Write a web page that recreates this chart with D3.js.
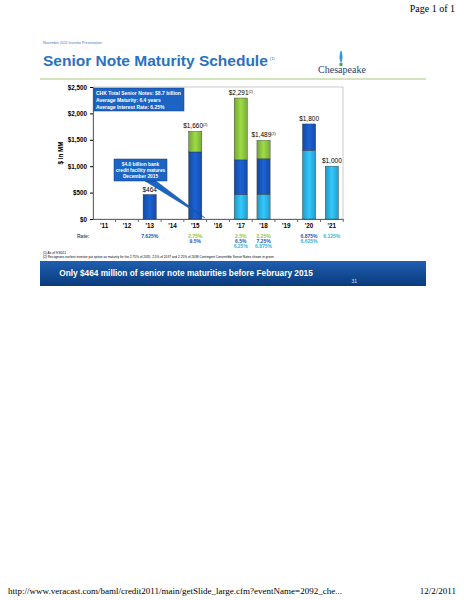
<!DOCTYPE html>
<html><head><meta charset="utf-8">
<script src="https://cdn.jsdelivr.net/npm/d3@7"></script>
<style>body{margin:0;background:#fff;font-family:Arial,"Liberation Sans",sans-serif}</style>
</head><body>
<script>
const years = ["'11","'12","'13","'14","'15","'16","'17","'18","'19","'20","'21"];
const light = [0,0,0,0,0,0,460,470,0,1300,1000];
const dark  = [0,0,464,0,1270,0,660,670,0,500,0];
const green = [0,0,0,0,390,0,1171,349,0,0,0];
const totals = ["","","$464","","$1,660","","$2,291","$1,489","","$1,800","$1,000"];
const totalNotes = ["","","","","(2)","","(2)","(2)","","",""];
const yTicks = [0,500,1000,1500,2000,2500];
const rates = [
  {year:"'13", lines:[["7.625%","dark"]]},
  {year:"'15", lines:[["2.75%","green"],["9.5%","dark"]]},
  {year:"'17", lines:[["2.5%","green"],["6.5%","dark"],["6.25%","light"]]},
  {year:"'18", lines:[["2.25%","green"],["7.25%","dark"],["6.875%","light"]]},
  {year:"'20", lines:[["6.875%","dark"],["6.625%","light"]]},
  {year:"'21", lines:[["6.125%","light"]]}
];
const col = {light:"#2cb5e6", dark:"#1858c0", green:"#8cc63f"};

const svg = d3.select("body").append("svg").attr("width",464).attr("height",600);
const defs = svg.append("defs");
function grad(id,c){const g=defs.append("linearGradient").attr("id",id);
  g.append("stop").attr("offset","0").attr("stop-color",d3.color(c).darker(0.5));
  g.append("stop").attr("offset","0.5").attr("stop-color",d3.color(c).brighter(0.3));
  g.append("stop").attr("offset","1").attr("stop-color",d3.color(c).darker(0.4));}
grad("gl",col.light);grad("gd",col.dark);grad("gg",col.green);
const bg=defs.append("linearGradient").attr("id","ban").attr("x1",0).attr("y1",0).attr("x2",0).attr("y2",1);
bg.append("stop").attr("offset",0).attr("stop-color","#1f5fb0");
bg.append("stop").attr("offset",1).attr("stop-color","#0a3a7c");

svg.append("text").attr("x",455).attr("y",12).attr("text-anchor","end").attr("font-family","Liberation Serif").attr("font-size",10).text("Page 1 of 1");
svg.append("text").attr("x",8).attr("y",594).attr("font-family","Liberation Serif").attr("font-size",9).text("http://www.veracast.com/baml/credit2011/main/getSlide_large.cfm?eventName=2092_che...");
svg.append("text").attr("x",456).attr("y",594).attr("text-anchor","end").attr("font-family","Liberation Serif").attr("font-size",9).text("12/2/2011");

svg.append("text").attr("x",43).attr("y",44).attr("font-size",3.5).attr("fill","#4a7ab8").text("November 2011 Investor Presentation");
const title = svg.append("text").attr("x",43).attr("y",66).attr("font-size",15.5).attr("font-weight","bold").attr("fill","#2a72c0").text("Senior Note Maturity Schedule");
svg.append("text").attr("x",43+title.node().getComputedTextLength()+2).attr("y",60).attr("font-size",4).attr("fill","#2a72c0").text("(1)");
// logo
svg.append("path").attr("d","M341,50 q3,6 0,14 q-3,-8 0,-14z").attr("fill","#2f9bd6");
svg.append("rect").attr("x",339.5).attr("y",63).attr("width",3).attr("height",3).attr("fill","#4aa65a");
svg.append("text").attr("x",342).attr("y",73).attr("text-anchor","middle").attr("font-family","Liberation Serif").attr("font-size",10).attr("fill","#1e3e70").text("Chesapeake");
svg.append("line").attr("x1",40).attr("x2",426).attr("y1",79).attr("y2",79).attr("stroke","#a8c878").attr("stroke-width",1);

const x = d3.scaleBand().domain(years).range([93,343]).paddingInner(0.42).paddingOuter(0.2);
const y = d3.scaleLinear().domain([0,2500]).range([219,87]);

svg.append("rect").attr("x",93).attr("y",87).attr("width",250).attr("height",132).attr("fill","none").attr("stroke","#999").attr("stroke-width",0.5);
const ya = svg.append("g").attr("transform","translate(93,0)").call(d3.axisLeft(y).tickValues(yTicks).tickSize(3).tickFormat(d=>"$"+d3.format(",")(d)));
ya.selectAll("text").attr("font-size",6.3).attr("font-weight","bold");
ya.select(".domain").attr("stroke","#666");
const xa = svg.append("g").attr("transform","translate(0,219)").call(d3.axisBottom(x).tickSize(0).tickPadding(5));
xa.selectAll("text").attr("font-size",6.3).attr("font-weight","bold");
xa.select(".domain").attr("stroke","#666");
xa.selectAll(".tick").append("line").attr("x1",x.step()/2).attr("x2",x.step()/2).attr("y1",0).attr("y2",3).attr("stroke","#666");
svg.append("text").attr("transform","translate(63,153) rotate(-90)").attr("text-anchor","middle").attr("font-size",6.3).attr("font-weight","bold").text("$ in MM");

years.forEach((yr,i)=>{
  let base=0;
  [[light[i],"gl"],[dark[i],"gd"],[green[i],"gg"]].forEach(([v,g])=>{
    if(!v)return;
    svg.append("rect").attr("x",x(yr)).attr("width",x.bandwidth()).attr("y",y(base+v)).attr("height",y(base)-y(base+v))
      .attr("fill",`url(#${g})`).attr("stroke","#333").attr("stroke-width",0.4);
    base+=v;
  });
  if(totals[i]){
    const t=svg.append("text").attr("x",x(yr)+x.bandwidth()/2).attr("y",y(base)-3).attr("text-anchor","middle").attr("font-size",6.5).text(totals[i]);
    if(totalNotes[i]) t.append("tspan").attr("font-size",3.5).attr("dy",-2.5).text(totalNotes[i]);
  }
});

svg.append("text").attr("x",77).attr("y",238).attr("font-size",5).attr("font-weight","bold").attr("fill","#555").text("Rate:");
rates.forEach(r=>{
  r.lines.forEach((l,j)=>{
    svg.append("text").attr("x",x(r.year)+x.bandwidth()/2).attr("y",238+j*4.8).attr("text-anchor","middle")
      .attr("font-size",5).attr("font-weight","bold").attr("fill",col[l[1]]).text(l[0]);
  });
});

// callouts
svg.append("rect").attr("x",94).attr("y",88).attr("width",90).attr("height",23).attr("fill","#1c64c4").attr("stroke","#0d3d80").attr("stroke-width",0.5);
["CHK Total Senior Notes: $8.7 billion","Average Maturity: 6.4 years","Average Interest Rate: 6.25%"].forEach((t,i)=>
  svg.append("text").attr("x",96).attr("y",95+i*6.8).attr("font-size",5).attr("font-weight","bold").attr("fill","#fff").text(t));
svg.append("path").attr("d","M145,181 L205,218 L156,181z").attr("fill","#1c64c4").attr("stroke","#0d3d80").attr("stroke-width",0.4);
svg.append("rect").attr("x",114).attr("y",159).attr("width",53).attr("height",22).attr("fill","#1c64c4").attr("stroke","#0d3d80").attr("stroke-width",0.5);
["$4.0 billion bank","credit facility matures","December 2015"].forEach((t,i)=>
  svg.append("text").attr("x",140.5).attr("y",166+i*5.8).attr("text-anchor","middle").attr("font-size",4.8).attr("font-weight","bold").attr("fill","#fff").text(t));

svg.append("text").attr("x",43).attr("y",254).attr("font-size",3.2).text("(1)    As of 9/30/11");
svg.append("text").attr("x",43).attr("y",258).attr("font-size",3.2).text("(2)    Recognizes earliest investor put option as maturity for the 2.75% of 2035, 2.5% of 2037 and 2.25% of 2038 Contingent Convertible Senior Notes shown in green");

svg.append("rect").attr("x",40).attr("y",261).attr("width",386).attr("height",25).attr("fill","url(#ban)");
svg.append("text").attr("x",186).attr("y",276).attr("text-anchor","middle").attr("font-size",8.3).attr("font-weight","bold").attr("fill","#fff").text("Only $464 million of senior note maturities before February 2015");
svg.append("text").attr("x",357).attr("y",283).attr("text-anchor","end").attr("font-size",5).attr("fill","#cfe0f5").text("31");
</script>
</body></html>
